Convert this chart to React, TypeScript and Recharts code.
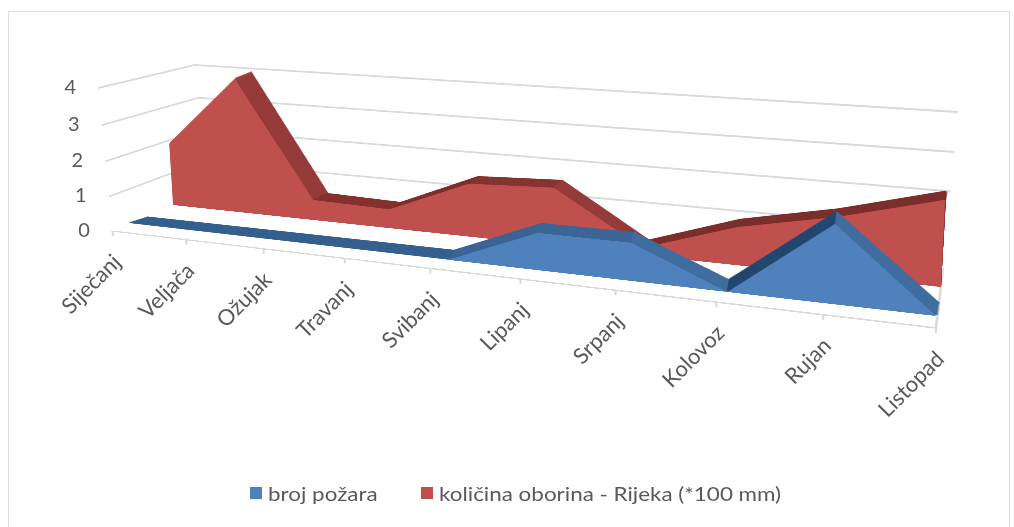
import { Area, AreaChart, CartesianGrid, Legend, ReferenceLine, XAxis, YAxis } from "recharts"

const months = ["Siječanj", "Veljača", "Ožujak", "Travanj", "Svibanj", "Lipanj", "Srpanj", "Kolovoz", "Rujan", "Listopad"]
const fires = [0, 0, 0, 0, 0, 1, 1, 0, 2, 0]
const rain = [1.9, 4, 0.6, 0.55, 1.5, 1.6, 0.2, 1, 1.5, 2.15]
const yTicks = [0, 1, 2, 3, 4]
const names = ["broj požara", "količina oborina - Rijeka (*100 mm)"]

const data = months.map((month, i) => ({ month, fires: fires[i], rain: rain[i] }))

const BLUE = "#4F81BD"
const RED = "#C0504D"
// top surface shade of each segment between two months
const blueShades = ["#325D8D", "#325D8D", "#325D8D", "#325D8D", "#3A6394", "#3B6497", "#3F6C9F", "#20466E", "#3F6C9F"]
const redShades = ["#C0504D", "#953A38", "#85302E", "#7D2C2A", "#853230", "#953A38", "#7B2D2B", "#7B2D2B", "#7B2D2B"]

type Pt = [number, number]
type Quad = [Pt, Pt, Pt, Pt] // top left, top right, bottom right, bottom left

// the planes of the 3D box, in page pixels
const backWall: Quad = [[195, 65], [958, 112], [943, 268], [203, 193]]
const sideWall: Quad = [[98, 88], [195, 65], [203, 193], [112, 231]]
const floor: Quad = [[203, 193], [943, 268], [936, 328], [112, 231]]
const frontEdge: Quad = [[98, 88], [950, 148], [936, 328], [112, 231]]
const redFront: Quad = [[165, 75], [949, 123], [941, 287], [173, 205]]
const redBack: Quad = [[183, 69], [951, 114], [941, 279], [191, 199]]
const blueFront: Quad = [[118, 85], [952, 150], [936, 316], [128, 223]]
const blueBack: Quad = [[138, 85], [954, 139], [938, 303], [147, 217]]

const W = 800
const H = 400
const M = 6
const LAYERS = 12

function projective(q: Quad) {
  const [[x0, y0], [x1, y1], [x2, y2], [x3, y3]] = q
  const dx1 = x1 - x2, dx2 = x3 - x2, dx3 = x0 - x1 + x2 - x3
  const dy1 = y1 - y2, dy2 = y3 - y2, dy3 = y0 - y1 + y2 - y3
  const den = dx1 * dy2 - dx2 * dy1
  const g = (dx3 * dy2 - dx2 * dy3) / den
  const h = (dx1 * dy3 - dx3 * dy1) / den
  return { a: x1 - x0 + g * x1, b: x3 - x0 + h * x3, c: x0, d: y1 - y0 + g * y1, e: y3 - y0 + h * y3, f: y0, g, h }
}

function toMatrix(q: Quad) {
  const { a, b, c, d, e, f, g, h } = projective(q)
  return `matrix3d(${[a / W, d / W, 0, g / W, b / H, e / H, 0, h / H, 0, 0, 1, 0, c, f, 0, 1].join(",")})`
}

function project(q: Quad, u: number, v: number): Pt {
  const { a, b, c, d, e, f, g, h } = projective(q)
  const k = g * u + h * v + 1
  return [(a * u + b * v + c) / k, (d * u + e * v + f) / k]
}

const mix = (p: Quad, r: Quad, t: number) =>
  p.map((pt, i) => [pt[0] + (r[i][0] - pt[0]) * t, pt[1] + (r[i][1] - pt[1]) * t]) as Quad

function Plane({ quad, children }: { quad: Quad; children: any }) {
  return (
    <div style={{ position: "absolute", left: -M, top: -M, transformOrigin: `${M}px ${M}px`, transform: toMatrix(quad) }}>
      <AreaChart width={W + 2 * M} height={H + 2 * M} data={data} margin={{ top: M, right: M, bottom: M, left: M }}>
        {children}
      </AreaChart>
    </div>
  )
}

function Shades({ id, shades }: { id: string; shades: string[] }) {
  return (
    <defs>
      <linearGradient id={id} x1="0" y1="0" x2="1" y2="0">
        {shades.flatMap((c, i) => [
          <stop key={`${i}a`} offset={i / shades.length} stopColor={c} />,
          <stop key={`${i}b`} offset={(i + 1) / shades.length} stopColor={c} />,
        ])}
      </linearGradient>
    </defs>
  )
}

function Solid({ quad, dataKey, shades, id }: { quad: [Quad, Quad]; dataKey: string; shades: string[]; id: string }) {
  const steps = Array.from({ length: LAYERS }, (_, i) => LAYERS - i)
  const fill = dataKey === "rain" ? RED : BLUE
  return (
    <>
      {steps.map((s) => (
        <Plane key={s} quad={mix(quad[0], quad[1], s / LAYERS)}>
          <Shades id={`${id}${s}`} shades={shades} />
          <XAxis dataKey="month" hide />
          <YAxis hide domain={[0, 4]} />
          <Area dataKey={dataKey} type="linear" fill={`url(#${id}${s})`} fillOpacity={1} stroke={`url(#${id}${s})`} strokeWidth={3.5} dot={false} activeDot={false} isAnimationActive={false} />
        </Plane>
      ))}
      <Plane quad={quad[0]}>
        <XAxis dataKey="month" hide />
        <YAxis hide domain={[0, 4]} />
        <Area dataKey={dataKey} type="linear" fill={fill} fillOpacity={1} stroke="none" dot={false} activeDot={false} isAnimationActive={false} />
      </Plane>
    </>
  )
}

function Wall({ quad }: { quad: Quad }) {
  return (
    <Plane quad={quad}>
      <XAxis dataKey="month" hide />
      <YAxis hide domain={[0, 4]} ticks={yTicks} />
      <CartesianGrid vertical={false} horizontalValues={yTicks} stroke="#D9D9D9" strokeWidth={5} />
      <Area dataKey="rain" fill="none" stroke="none" isAnimationActive={false} />
    </Plane>
  )
}

// overlay chart: plain scales, ticks are pushed onto the slanted edges of the box
const OV = { left: 100, top: 100, width: 800, height: 300 }

function MonthTick({ x, payload }: any) {
  const [sx, sy] = project(frontEdge, (x - OV.left) / OV.width, 1)
  return (
    <g>
      <line x1={sx} y1={sy} x2={sx} y2={sy + 5} stroke="#D9D9D9" strokeWidth={2} />
      <text transform={`translate(${sx + 4} ${sy + 27}) rotate(-45)`} textAnchor="end" dy="0.35em" fontSize={22} fill="#595959">
        {payload.value}
      </text>
    </g>
  )
}

function ValueTick({ y, payload }: any) {
  const [sx, sy] = project(sideWall, 0, (y - OV.top) / OV.height)
  return (
    <text x={sx - 22} y={sy - 1} dy="0.35em" textAnchor="end" fontSize={20} fill="#595959">
      {payload.value}
    </text>
  )
}

function LegendBox() {
  const items = [
    { name: names[0], color: BLUE, left: 250 },
    { name: names[1], color: RED, left: 421 },
  ]
  return (
    <div style={{ position: "relative", height: 0 }}>
      {items.map((it) => (
        <div key={it.name} style={{ position: "absolute", left: it.left, top: 482, whiteSpace: "nowrap", fontSize: 19, color: "#595959", display: "flex", alignItems: "center", height: 22 }}>
          <span style={{ width: 12, height: 12, background: it.color, marginRight: 6 }} />
          <span style={{ display: "inline-block", transformOrigin: "0 50%", transform: "scaleX(1.18)" }}>{it.name}</span>
        </div>
      ))}
    </div>
  )
}

export default function App() {
  return (
    <div style={{ position: "absolute", left: 0, top: 0, width: 1014, height: 527, overflow: "hidden", background: "#FFFFFF", fontFamily: "Lato, sans-serif", filter: "blur(0.7px)" }}>
      <div style={{ position: "absolute", left: 8, top: 11, width: 1000, height: 530, border: "1px solid #DEDEDE" }} />
      <Wall quad={backWall} />
      <Wall quad={sideWall} />
      <Plane quad={floor}>
        <XAxis dataKey="month" hide />
        <YAxis hide domain={[0, 4]} />
        <ReferenceLine y={0} stroke="#D9D9D9" strokeWidth={9} />
        <ReferenceLine x="Listopad" stroke="#D9D9D9" strokeWidth={2} />
        <Area dataKey="rain" fill="none" stroke="none" isAnimationActive={false} />
      </Plane>
      <Solid quad={[redFront, redBack]} dataKey="rain" shades={redShades} id="r" />
      <Solid quad={[blueFront, blueBack]} dataKey="fires" shades={blueShades} id="b" />
      <div style={{ position: "absolute", left: 0, top: 0 }}>
        <AreaChart width={1014} height={527} data={data} margin={{ top: OV.top, left: OV.left, right: 1014 - OV.left - OV.width, bottom: 527 - OV.top - OV.height }}>
          <XAxis dataKey="month" height={1} interval={0} axisLine={false} tickLine={false} tick={MonthTick} />
          <YAxis width={1} domain={[0, 4]} ticks={yTicks} axisLine={false} tickLine={false} tick={ValueTick} />
          <Area dataKey="fires" name={names[0]} fill="none" stroke="none" isAnimationActive={false} />
          <Area dataKey="rain" name={names[1]} fill="none" stroke="none" isAnimationActive={false} />
          <Legend content={LegendBox} wrapperStyle={{ left: 0, top: 0, width: 1014 }} />
        </AreaChart>
      </div>
    </div>
  )
}
